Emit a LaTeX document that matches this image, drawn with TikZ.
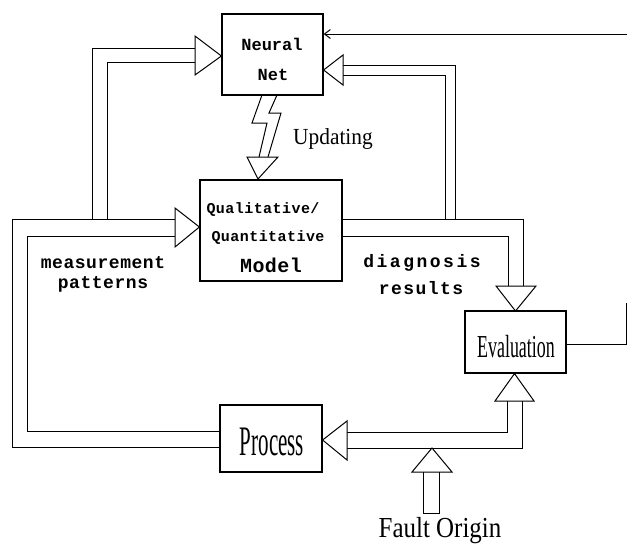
\documentclass[tikz,border=0pt]{standalone}
\usepackage{fontspec}
\setmainfont{Liberation Serif}
\setmonofont{Liberation Mono}
\usetikzlibrary{arrows.meta}

% printer-style spaced mono text: size, letter spacing, text
\newcommand{\dottext}[3]{{\ttfamily\bfseries\fontsize{#1}{#1}\selectfont\addfontfeatures{LetterSpace=#2}#3}}
% condensed serif text: size, horizontal factor, text
\newcommand{\narrowtext}[3]{\scalebox{#2}[1]{\fontsize{#1}{#1}\selectfont #3}}

\begin{document}
\begin{tikzpicture}[x=1pt,y=-1pt,
  box/.style={draw, line width=1.2pt, inner sep=0pt},
  pipe/.style={line width=1pt, line join=miter},
  hollowhead/.style={draw, fill=white, line width=1pt, line join=miter},
  lbl/.style={inner sep=0pt, anchor=base}]
\useasboundingbox (0,0) rectangle (627,544);

% blocks
\node[box, minimum width=101pt, minimum height=81pt]  (nn) at (272.5,54.5) {};
\node[box, minimum width=142pt, minimum height=101pt] (qq) at (271,230.5) {};
\node[box, minimum width=101pt, minimum height=62pt]  (ev) at (515.5,342) {};
\node[box, minimum width=102pt, minimum height=67pt]  (pr) at (271,438.5) {};

% block texts
\node[lbl] (nnA) at (272,50) {\dottext{17}{0}{Neural}};
\node[lbl] (nnB) at (273,80) {\dottext{17}{0}{Net}};
\node[lbl] (qqA) at (263,213) {\dottext{15}{3}{Qualitative/}};
\node[lbl] (qqB) at (268,241) {\dottext{15}{3}{Quantitative}};
\node[lbl] (qqC) at (271,272) {\dottext{20}{2}{Model}};
\node[lbl] (evT) at (516,357) {\narrowtext{32}{0.56}{Evaluation}};
\node[lbl] (prT) at (272,455) {\narrowtext{42}{0.5}{Process}};

% side labels
\node[lbl] (mA) at (103,268) {\dottext{18}{3}{measurement}};
\node[lbl] (mB) at (103,288) {\dottext{18}{3}{patterns}};
\node[lbl] (dA) at (422,267) {\dottext{18}{14}{diagnosis}};
\node[lbl] (dB) at (421,294) {\dottext{18}{8}{results}};
\node[lbl, anchor=base west] (up) at (293,144) {\narrowtext{23}{0.93}{Updating}};
\node[lbl] (fo) at (440,537) {\narrowtext{29}{0.86}{Fault Origin}};

% measurement patterns: process -> model
\draw[pipe] (pr.west |- 0,447) -- (12,447) -- (12,219) -- (175,219);
\draw[pipe] (pr.west |- 0,431) -- (27,431) -- (27,236) -- (175,236);
\draw[hollowhead] (175,208) -- (qq.west |- 0,227) -- (175,247) -- cycle;

% branch to the neural net
\draw[pipe] (92,219) -- (92,48) -- (195,48);
\draw[pipe] (107,219) -- (107,62) -- (195,62);
\draw[hollowhead] (195,36) -- (nn.west |- 0,56) -- (195,75) -- cycle;

% diagnosis results: model -> evaluation
\draw[pipe] (qq.east |- 0,219) -- (523,219) -- (523,286);
\draw[pipe] (qq.east |- 0,236) -- (508,236) -- (508,286);
\draw[hollowhead] (496,286) -- (ev.north |- 0,311) -- (536,286) -- cycle;

% branch back to the neural net
\draw[pipe] (455,219) -- (455,65) -- (343,65);
\draw[pipe] (445,219) -- (445,75) -- (343,75);
\draw[hollowhead] (343,55) -- (nn.east |- 0,70) -- (343,85) -- cycle;

% updating bolt: neural net -> model
\draw[pipe] (262,95) -- (252,123) -- (267,123) -- (259,157);
\draw[pipe] (277,95) -- (269,113) -- (281,113) -- (268,157);
\draw[hollowhead] (247,157) -- (258,179) -- (278,157) -- cycle;

% fault origin feeding process and evaluation
\draw[pipe] (507,401) -- (507,432) -- (347,432);
\draw[pipe] (522,401) -- (522,448) -- (347,448);
\draw[hollowhead] (495,401) -- (ev.south -| 514.5,0) -- (534,401) -- cycle;
\draw[hollowhead] (347,421) -- (pr.east |- 0,440) -- (347,460) -- cycle;
\draw[hollowhead] (412,472) -- (432,448) -- (452,472) -- cycle;
\draw[pipe] (423,472) -- (423,513) -- (439,513) -- (439,472);

% evaluation feedback loop to the neural net
\coordinate (fbIn) at (627,34);
\coordinate (fbOut) at (626,344);
\coordinate (fbUp) at (626,303);
\draw[pipe, -{Straight Barb[length=6pt,width=9pt]}] (fbIn) -- (nn.east |- fbIn);
\draw[pipe] (ev.east |- fbOut) -- (fbOut) -- (fbUp);
\end{tikzpicture}
\end{document}
